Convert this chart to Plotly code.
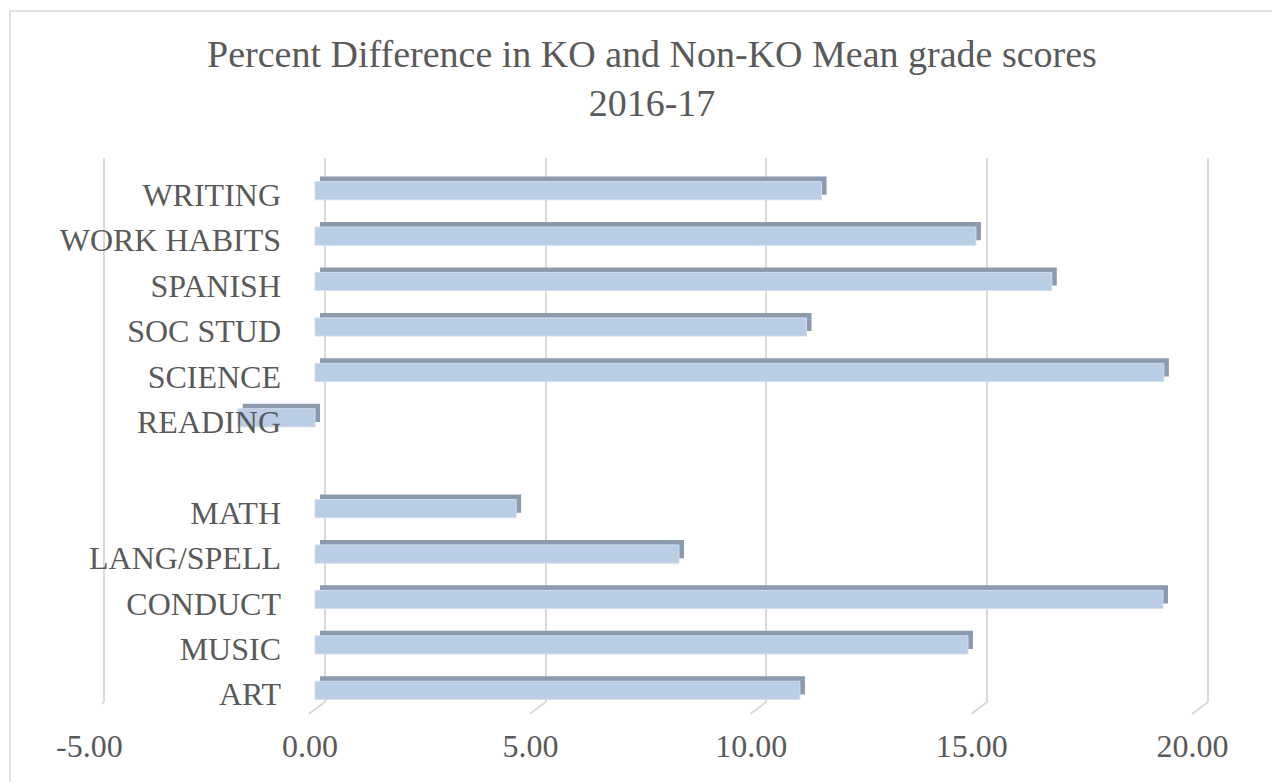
import plotly.graph_objects as go

# the page puts the figure 8px in from the top-left corner
PAGE = 8
W, H = 1280 - PAGE, 782 - PAGE

categories = ["ART", "MUSIC", "CONDUCT", "LANG/SPELL", "MATH", " ",
              "READING", "SCIENCE", "SOC STUD", "SPANISH", "WORK HABITS", "WRITING"]
values = [10.99, 14.8, 19.22, 8.25, 4.56, None,
          -1.75, 19.24, 11.14, 16.7, 14.98, 11.48]
x_ticks = [-5, 0, 5, 10, 15, 20]
x_labels = [f"{t:.2f}" for t in x_ticks]
x_range = [-5, 20]

FONT = "Liberation Serif"
TXT = "#595959"
GRID = "#D9D9D9"


def fx(px):
    return (px - PAGE) / W


def fy(px):
    return 1 - (px - PAGE) / H


unit = 44.12          # pixels per data unit, front of the bars
back_unit = 44.16     # pixels per data unit, back wall
depth = 5             # 3d offset of the bar top / side faces
front_left = 315 - 5 * unit
pad = 0.05            # keep the end gridlines inside the range

fig = go.Figure()

# back wall: gridlines only
fig.add_trace(go.Scatter(x=x_ticks, y=[0] * len(x_ticks), xaxis="x", yaxis="y",
                         mode="markers", marker_opacity=0, hoverinfo="skip",
                         showlegend=False))
# dark faces of the bars (top + side), slightly behind and up
fig.add_trace(go.Bar(y=categories, x=values, orientation="h", xaxis="x2", yaxis="y2",
                     width=0.4, marker_color="#8C9AAE", marker_line_width=0,
                     showlegend=False, hoverinfo="skip"))
# front faces
fig.add_trace(go.Bar(y=categories, x=values, orientation="h", xaxis="x3", yaxis="y3",
                     width=0.4, marker_color="#B9CDE5",
                     marker_line=dict(color="#D3DEEC", width=1),
                     showlegend=False))

# slanted floor part of each gridline
shapes = []
for t in x_ticks:
    shapes.append(dict(type="line", xref="x", yref="paper",
                       x0=t, y0=fy(702), x1=t - 16 / back_unit, y1=fy(714),
                       line=dict(color=GRID, width=2)))
# chart border
shapes.append(dict(type="rect", xref="paper", yref="paper",
                   x0=fx(10), y0=-0.1, x1=1.1, y1=fy(11),
                   line=dict(color=GRID, width=1.5)))

cat_axis = dict(type="category", categoryorder="array", categoryarray=categories,
                range=[-0.5, len(categories) - 0.5], showgrid=False, zeroline=False,
                showline=False, ticks="", automargin=False)

fig.update_layout(
    width=W, height=H,
    margin=dict(l=0, r=0, t=0, b=0, autoexpand=False),
    paper_bgcolor="white", plot_bgcolor="rgba(0,0,0,0)",
    barmode="overlay",
    title=dict(text="Percent Difference in KO and Non-KO Mean grade scores<br>2016-17",
               x=fx(652), xanchor="center", y=fy(67), yanchor="top",
               font=dict(family=FONT, size=38, color=TXT)),
    font=dict(family=FONT, color=TXT),
    xaxis=dict(domain=[fx(104 - pad * back_unit), fx(1208 + pad * back_unit)],
               range=[x_range[0] - pad, x_range[1] + pad], dtick=5, tick0=0,
               showgrid=True, gridcolor=GRID, gridwidth=2, zeroline=False,
               showline=False, showticklabels=False, anchor="y", automargin=False),
    yaxis=dict(domain=[fy(702), fy(158)], range=[0, 1], visible=False, anchor="x",
               automargin=False),
    xaxis2=dict(domain=[fx(front_left + depth), fx(front_left + depth + 25 * unit)],
                range=x_range, visible=False, anchor="y2", automargin=False),
    yaxis2=dict(domain=[fy(713 - depth), fy(168 - depth)], visible=False,
                anchor="x2", **cat_axis),
    xaxis3=dict(domain=[fx(front_left), fx(front_left + 25 * unit)], range=x_range,
                tickvals=x_ticks, ticktext=x_labels, showgrid=False, zeroline=False,
                showline=False, ticks="", ticklabelshift=-5, ticklabelstandoff=11,
                tickfont=dict(family=FONT, size=32, color=TXT), anchor="y3",
                automargin=False),
    yaxis3=dict(domain=[fy(713), fy(168)], anchor="free", position=fx(281),
                ticklabelshift=4,
                tickfont=dict(family=FONT, size=32, color=TXT), **cat_axis),
    shapes=shapes,
)

fig.write_html("out.html")
